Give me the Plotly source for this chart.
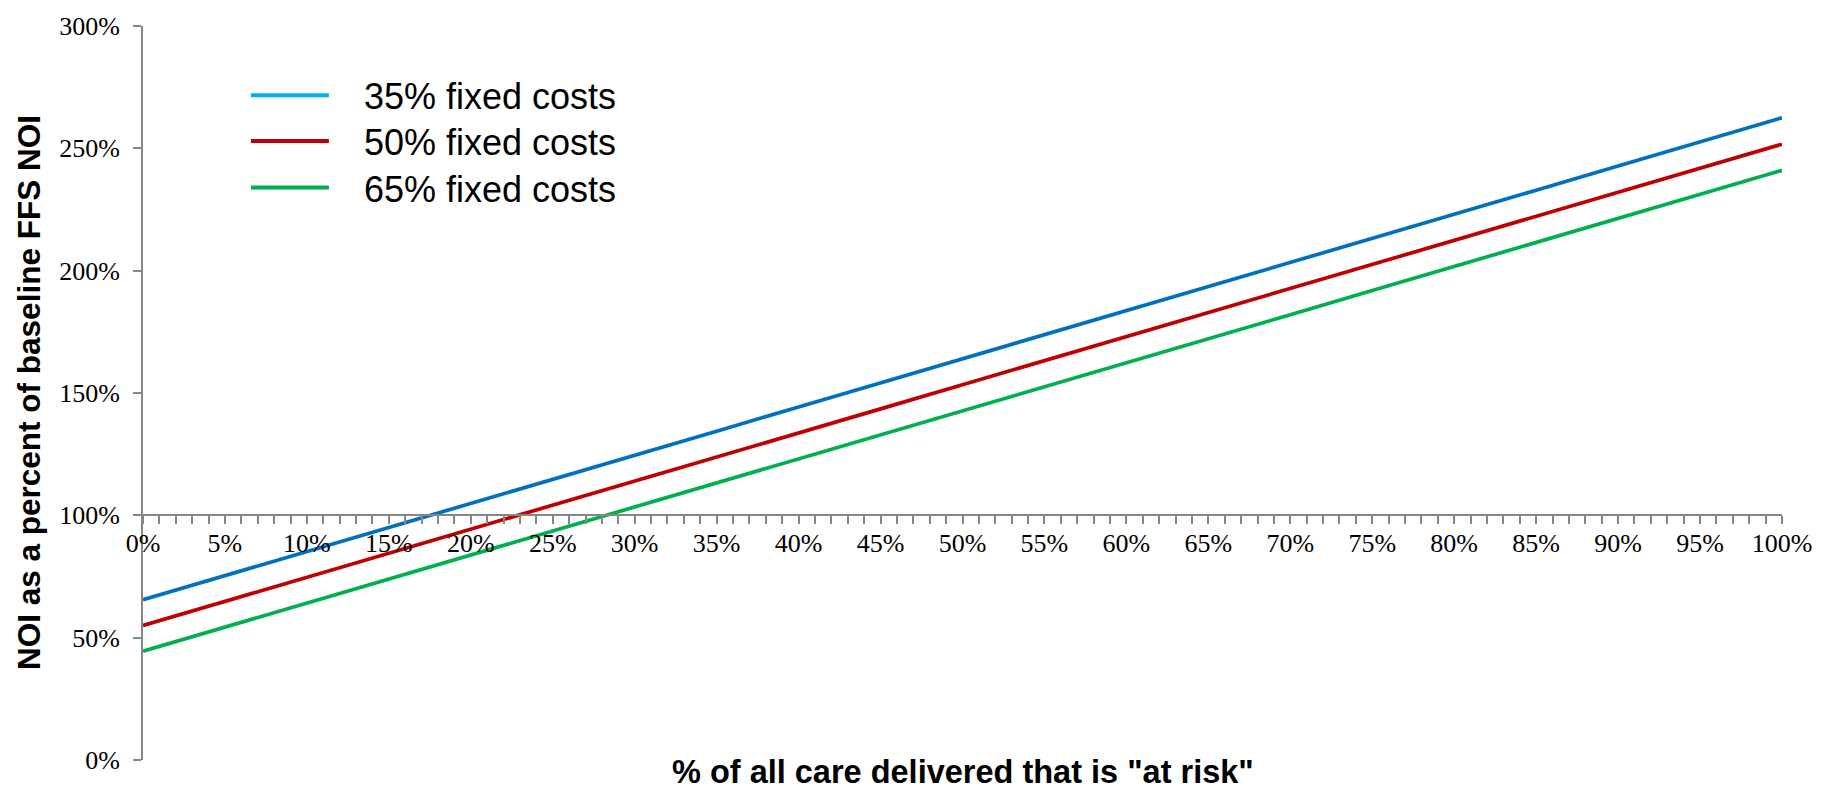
import plotly.graph_objects as go

x_pct = [0, 5, 10, 15, 20, 25, 30, 35, 40, 45, 50, 55, 60, 65, 70, 75, 80, 85, 90, 95, 100]
fixed_35 = [65.5, 75.3, 85.2, 95.0, 104.9, 114.7, 124.6, 134.4, 144.3, 154.1, 164.0,
            173.8, 183.7, 193.5, 203.4, 213.2, 223.1, 232.9, 242.8, 252.6, 262.5]
fixed_50 = [55.0, 64.8, 74.7, 84.5, 94.3, 104.2, 114.0, 123.8, 133.7, 143.5, 153.4,
            163.2, 173.0, 182.9, 192.7, 202.5, 212.4, 222.2, 232.0, 241.9, 251.7]
fixed_65 = [44.5, 54.3, 64.2, 74.0, 83.8, 93.6, 103.5, 113.3, 123.1, 132.9, 142.8,
            152.6, 162.4, 172.2, 182.0, 191.9, 201.7, 211.5, 221.3, 231.2, 241.0]
series_names = ["35% fixed costs", "50% fixed costs", "65% fixed costs"]
line_colors = ["#0070C0", "#C00000", "#00B050"]
legend_colors = ["#00B0F0", "#C00000", "#00B050"]
legend_ids = ["legend", "legend2", "legend3"]

fig = go.Figure()
for name, ys, c in zip(series_names, [fixed_35, fixed_50, fixed_65], line_colors):
    fig.add_trace(go.Scatter(x=x_pct, y=ys, mode="lines", name=name,
                             line=dict(color=c, width=3.7), showlegend=False))
for name, c, lg in zip(series_names, legend_colors, legend_ids):
    fig.add_trace(go.Scatter(x=[None], y=[None], mode="lines",
                             name="\u00a0\u00a0\u00a0" + name, legend=lg,
                             line=dict(color=c, width=4), showlegend=True))

axis_gray = "#868686"
serif = "Liberation Serif, Times New Roman, serif"
sans = "Liberation Sans, Arial, sans-serif"

def leg(ypix):
    return dict(x=0.0628, y=(760 - ypix) / 740, xanchor="left", yanchor="middle",
                font=dict(family=sans, size=36), itemwidth=78,
                bgcolor="rgba(0,0,0,0)")

fig.update_layout(
    width=1831, height=804,
    margin=dict(l=143, r=49, t=20, b=44),
    plot_bgcolor="white", paper_bgcolor="white",
    font=dict(family=serif, color="black", size=26),
    xaxis=dict(range=[0, 100], dtick=5, tick0=0, ticksuffix="%",
               anchor="free", position=1/3,
               showline=True, linecolor=axis_gray, linewidth=2,
               ticks="outside", ticklen=8, tickwidth=2, tickcolor=axis_gray,
               minor=dict(dtick=1, ticks="outside", ticklen=8, tickwidth=2, tickcolor=axis_gray),
               showgrid=False, zeroline=False,
               tickfont=dict(size=26, family=serif),
               ticklabelstandoff=-4),
    yaxis=dict(range=[0, 300], dtick=50, ticksuffix="%",
               showline=True, linecolor=axis_gray, linewidth=2,
               ticks="outside", ticklen=8, tickwidth=2, tickcolor=axis_gray,
               showgrid=False, zeroline=False,
               tickfont=dict(size=26, family=serif),
               ticklabelstandoff=8),
    legend=leg(90), legend2=leg(136), legend3=leg(183),
    annotations=[
        dict(text='<b>% of all care delivered that is "at risk"</b>', xref="paper", yref="paper",
             x=0.5, y=0, yshift=-12, xanchor="center", yanchor="middle", showarrow=False,
             font=dict(family=sans, size=32.5, color="black")),
        dict(text="<b>NOI as a percent of baseline FFS NOI</b>", xref="paper", yref="paper",
             x=0, xshift=-114, y=0.5, xanchor="center", yanchor="middle", textangle=-90,
             showarrow=False,
             font=dict(family=sans, size=31.5, color="black")),
    ],
)

fig.write_html("out.html")
